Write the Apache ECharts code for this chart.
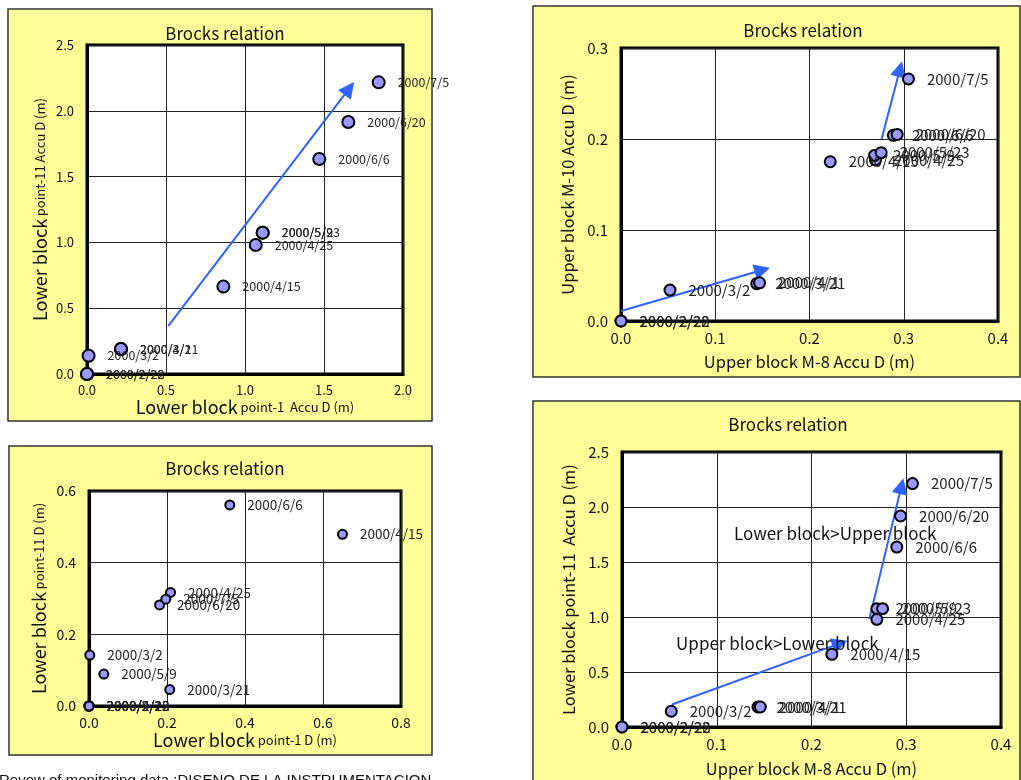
<!DOCTYPE html>
<html>
<head>
<meta charset="utf-8">
<script src="https://cdn.jsdelivr.net/npm/echarts@6/dist/echarts.min.js"></script>
<style>
  html, body { margin: 0; padding: 0; background: #fff; }
  #main { width: 1021px; height: 780px; }
</style>
</head>
<body>
<div id="main"></div>
<script>
// dates of the monitoring readings (same order in every array)
var dates = ['2000/2/22', '2000/2/28', '2000/3/2', '2000/3/21', '2000/4/1', '2000/4/15',
  '2000/4/25', '2000/5/9', '2000/5/23', '2000/6/6', '2000/6/20', '2000/7/5']

// chart 1: lower block point-1 vs point-11, accumulated D
var c1X = [0, 0, 0.01, 0.215, 0.215, 0.863, 1.068, 1.112, 1.112, 1.470, 1.654, 1.846]
var c1Y = [0, 0, 0.139, 0.19, 0.19, 0.664, 0.980, 1.074, 1.074, 1.634, 1.915, 2.216]
// chart 2: upper block M-8 vs M-10, accumulated D
var c2X = [0, 0, 0.052, 0.144, 0.147, 0.222, 0.270, 0.269, 0.276, 0.289, 0.293, 0.305]
var c2Y = [0, 0, 0.034, 0.041, 0.042, 0.175, 0.177, 0.182, 0.185, 0.204, 0.205, 0.266]
// chart 3: lower block point-1 vs point-11, D
var c3X = [0, 0, 0.002, 0.207, 0, 0.650, 0.209, 0.038, 0, 0.361, 0.181, 0.197]
var c3Y = [0, 0, 0.142, 0.046, 0, 0.479, 0.317, 0.089, 0, 0.561, 0.282, 0.298]
// chart 4: upper block M-8 vs lower block point-11, accumulated D
var c4X = [0, 0, 0.052, 0.1435, 0.146, 0.2215, 0.269, 0.269, 0.275, 0.290, 0.294, 0.3066]
var c4Y = [0, 0, 0.143, 0.182, 0.182, 0.661, 0.979, 1.076, 1.076, 1.636, 1.918, 2.213]

// trend arrows [x1, y1, x2, y2]
var c1Arrows = [[0.515, 0.365, 1.66, 2.17]]
var c2Arrows = [[0, 0.011, 0.150, 0.056], [0.2765, 0.200, 0.296, 0.277]]
var c4Arrows = [[0.0527, 0.204, 0.230, 0.760], [0.261, 0.979, 0.295, 2.19]]

// notes in chart 4 [x, y, text]
var c4Notes = [[0.225, 1.761, 'Lower block>Upper block'], [0.164, 0.761, 'Upper block>Lower block']]

var FONT = '"Noto Sans CJK JP", "Noto Sans", sans-serif'
var chart = echarts.init(document.getElementById('main'))

function pts(xs, ys) {
  return xs.map(function (x, i) { return [x, ys[i], dates[i]] })
}

function arrowData(list) {
  return list.map(function (a) {
    return [{ coord: [a[0], a[1]] }, { coord: [a[2], a[3]] }]
  })
}

function xAx(idx, max, step, name, rich, gap, fs) {
  return {
    gridIndex: idx, type: 'value', min: 0, max: max, interval: step,
    name: name, nameLocation: 'middle', nameGap: gap,
    nameTextStyle: { color: '#111', fontFamily: FONT, rich: rich },
    axisLine: { show: true, lineStyle: { color: '#000', width: 3 } },
    axisTick: { show: false },
    axisLabel: { color: '#111', fontSize: fs, fontFamily: FONT, margin: 10,
      formatter: function (v) { return v.toFixed(1) } },
    splitLine: { show: true, lineStyle: { color: '#222', width: 1 } }
  }
}

function yAx(idx, max, step, name, rich, gap, fs) {
  var a = xAx(idx, max, step, name, rich, gap, fs)
  a.nameRotate = 90
  a.axisLabel.margin = 13
  return a
}

function scatter(idx, data, size, fs, extra) {
  var s = {
    type: 'scatter', xAxisIndex: idx, yAxisIndex: idx,
    data: data, symbolSize: size,
    itemStyle: { color: '#9999ff', borderColor: '#000', borderWidth: 2, opacity: 1 },
    label: {
      show: true, position: 'right', distance: 12,
      formatter: function (p) { return p.data[2] },
      color: '#222', fontSize: fs, fontFamily: FONT
    },
    emphasis: { disabled: true },
    z: 5
  }
  return Object.assign(s, extra || {})
}

function arrows(list) {
  return {
    silent: true, animation: false,
    symbol: ['none', 'triangle'], symbolSize: 16,
    lineStyle: { color: '#2f62ff', width: 2, type: 'solid' },
    itemStyle: { color: '#2f62ff' },
    label: { show: false },
    emphasis: { disabled: true },
    data: arrowData(list)
  }
}

var big = { a: { fontSize: 18, fontFamily: FONT, color: '#111' }, b: { fontSize: 13, fontFamily: FONT, color: '#111' } }
var mid = { a: { fontSize: 16.5, fontFamily: FONT, color: '#111' } }

var titleStyle = { fontSize: 17, fontWeight: 'normal', color: '#111', fontFamily: FONT }

var option = {
  animation: false,
  backgroundColor: '#fff',
  graphic: {
    elements: [
      { type: 'rect', z: -10, shape: { x: 8, y: 9, width: 424, height: 412 }, style: { fill: '#ffff99', stroke: '#333', lineWidth: 1.5 } },
      { type: 'rect', z: -10, shape: { x: 533, y: 6, width: 487, height: 371 }, style: { fill: '#ffff99', stroke: '#333', lineWidth: 1.5 } },
      { type: 'rect', z: -10, shape: { x: 9, y: 446, width: 423, height: 309 }, style: { fill: '#ffff99', stroke: '#333', lineWidth: 1.5 } },
      { type: 'rect', z: -10, shape: { x: 533, y: 401, width: 487, height: 400 }, style: { fill: '#ffff99', stroke: '#333', lineWidth: 1.5 } },
      { type: 'text', left: -1, top: 773, style: { text: 'Revew of monitoring data :DISENO DE LA INSTRUMENTACION', fontSize: 15, fontFamily: '"Liberation Sans", Arial, sans-serif', fill: '#111' } }
    ]
  },
  title: [
    { text: 'Brocks relation', left: 220, top: 20, textAlign: 'center', textStyle: titleStyle },
    { text: 'Brocks relation', left: 798, top: 17, textAlign: 'center', textStyle: titleStyle },
    { text: 'Brocks relation', left: 220, top: 455, textAlign: 'center', textStyle: titleStyle },
    { text: 'Brocks relation', left: 783, top: 411, textAlign: 'center', textStyle: titleStyle }
  ],
  grid: [
    { left: 87, top: 45, width: 316, height: 329, show: true, backgroundColor: '#fff', borderColor: '#000', borderWidth: 3 },
    { left: 621, top: 48, width: 377, height: 273, show: true, backgroundColor: '#fff', borderColor: '#000', borderWidth: 3 },
    { left: 89, top: 491, width: 312, height: 215, show: true, backgroundColor: '#fff', borderColor: '#000', borderWidth: 3 },
    { left: 622, top: 452, width: 379, height: 275, show: true, backgroundColor: '#fff', borderColor: '#000', borderWidth: 3 }
  ],
  xAxis: [
    xAx(0, 2.0, 0.5, '{a|Lower block} {b|point-1  Accu D (m)}', big, 24, 13),
    xAx(1, 0.4, 0.1, '{a|Upper block M-8 Accu D (m)}', mid, 32, 15),
    xAx(2, 0.8, 0.2, '{a|Lower block} {b|point-1 D (m)}', big, 25, 14),
    xAx(3, 0.4, 0.1, '{a|Upper block M-8 Accu D (m)}', mid, 33, 15)
  ],
  yAxis: [
    yAx(0, 2.5, 0.5, '{a|Lower block} {b|point-11 Accu D (m)}', big, 38, 13),
    yAx(1, 0.3, 0.1, '{a|Upper block M-10 Accu D (m)}', mid, 45, 15),
    yAx(2, 0.6, 0.2, '{a|Lower block} {b|point-11 D (m)}', big, 41, 14),
    yAx(3, 2.5, 0.5, '{a|Lower block point-11  Accu D (m)}', mid, 45, 15)
  ],
  series: [
    scatter(0, pts(c1X, c1Y), 12, 12.5, { markLine: arrows(c1Arrows) }),
    scatter(1, pts(c2X, c2Y), 11, 15, { markLine: arrows(c2Arrows) }),
    scatter(2, pts(c3X, c3Y), 9, 13.5),
    scatter(3, pts(c4X, c4Y), 11, 15, {
      markLine: arrows(c4Arrows),
      markPoint: {
        silent: true, symbol: 'circle', symbolSize: 0,
        label: { show: true, position: 'inside', formatter: '{b}', color: '#111', fontSize: 17, fontFamily: FONT },
        data: c4Notes.map(function (n) { return { coord: [n[0], n[1]], name: n[2] } })
      }
    })
  ]
}

chart.setOption(option)
</script>
</body>
</html>
